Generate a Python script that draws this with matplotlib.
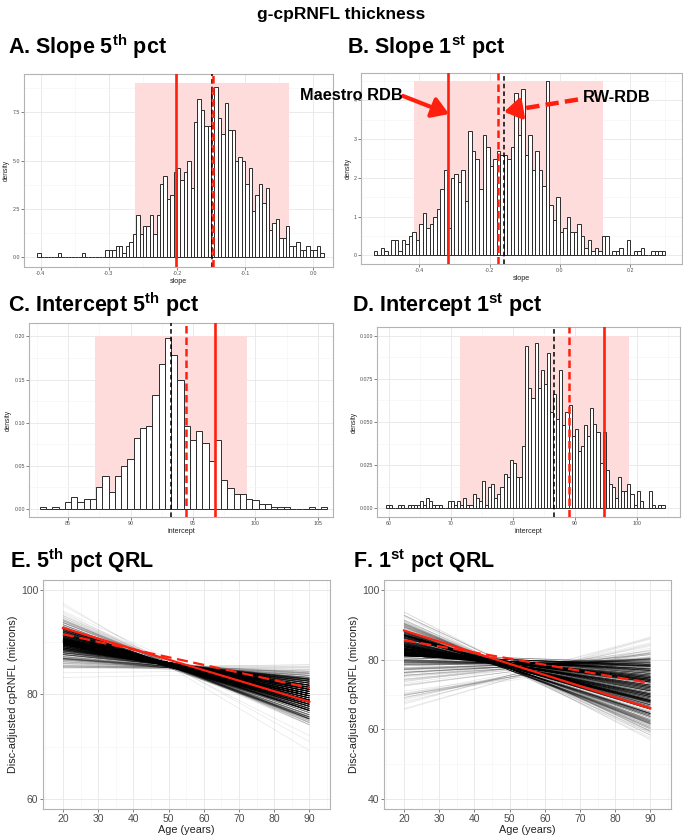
import numpy as np
import matplotlib
matplotlib.use('Agg')
import matplotlib.pyplot as plt
from matplotlib.patches import Rectangle, FancyArrowPatch
from matplotlib.lines import Line2D
from matplotlib.collections import LineCollection
from matplotlib.ticker import MultipleLocator

plt.rcParams['font.family'] = ['Liberation Sans', 'DejaVu Sans']
plt.rcParams['mathtext.fontset'] = 'custom'
plt.rcParams['mathtext.rm'] = 'Liberation Sans:bold'
plt.rcParams['mathtext.bf'] = 'Liberation Sans:bold'

# ---- bootstrap histograms (density per bin) ----
slope5_start, slope5_bw = -0.405, 0.005
slope5_density = [0.2, 0, 0, 0, 0, 0, 0.2, 0, 0, 0, 0, 0, 0, 0.2, 0, 0, 0, 0, 0, 0,
                  0.4, 0.4, 0.4, 0.6, 0.6, 0.2, 0.6, 0.8, 1.2, 2.2, 1.2, 1.6, 1.6, 2.2, 1.2, 2.2, 3.8, 4.2, 3.0, 3.2,
                  4.4, 4.6, 4.0, 4.4, 5.0, 3.6,
                  7.0, 8.2, 7.6, 6.8, 6.8, 8.6, 8.8, 7.2, 6.4, 8.0, 6.6, 6.6, 5.0, 5.2, 5.0, 3.8, 4.6, 2.4, 3.2, 3.8,
                  2.8, 3.6, 1.4, 1.8, 2.0, 1.0, 1.0, 1.6,
                  0.6, 0.6, 0.8, 0.4, 0.4, 0.6, 0.4, 0.4, 0.6, 0.2]

slope1_start, slope1_bw = -0.53, 0.01
slope1_density = [0.1, 0, 0.2, 0.1, 0, 0.4, 0.4, 0.1, 0.4, 0.3, 0.5, 0.6, 0.4, 0.8, 1.1, 0.7, 0.8, 1.0, 1.2, 1.7,
                  2.2, 0.7, 2.0, 2.1, 1.9, 2.2, 1.4, 3.2, 2.7, 2.5, 1.7, 3.1, 2.8, 2.3, 2.5, 2.7, 2.6, 2.6, 2.5, 2.8,
                  4.2, 3.1, 4.3, 2.6, 3.1, 2.2, 2.7, 2.2, 1.8, 4.5, 1.3, 0.9, 1.5, 0.6, 0.7, 1.0, 0.6, 0.6, 0.8, 0.5,
                  0.2, 0.4, 0.1, 0.2, 0.1, 0.5, 0.5, 0, 0.1, 0.1, 0.2, 0, 0.4, 0, 0.1, 0.1, 0.2, 0, 0, 0.1, 0.1, 0.1, 0.1]

icpt5_start, icpt5_bw = 82.75, 0.5
icpt5_density = [0.002, 0, 0.002, 0, 0.008, 0.014, 0.008, 0.012, 0.012, 0.026,
                 0.038, 0.020, 0.038, 0.050, 0.058, 0.082, 0.094, 0.096, 0.132, 0.168,
                 0.198, 0.178, 0.150, 0.096, 0.080, 0.090, 0.076, 0.056, 0.080, 0.034,
                 0.024, 0.018, 0.018, 0.012, 0.010, 0.006, 0.006, 0.002, 0.002, 0.002,
                 0, 0, 0, 0.002, 0, 0.002]

icpt1_start, icpt1_bw = 59.5, 0.5
icpt1_density = [0.002, 0.002, 0, 0, 0.002, 0.002, 0, 0.002, 0.002, 0.002,
                 0.002, 0.004, 0.002, 0.006, 0.004, 0.002, 0.002, 0.002, 0, 0,
                 0.004, 0.004, 0.002, 0.004, 0.002, 0.006, 0.002, 0.002, 0.008, 0.006,
                 0.004, 0.016, 0.002, 0.012, 0.014, 0.006, 0.008, 0.012, 0.020, 0.018,
                 0.028, 0.026, 0.018, 0.018, 0.036, 0.094, 0.070, 0.064, 0.096, 0.070,
                 0.080, 0.072, 0.090, 0.056, 0.066, 0.052, 0.080, 0.048, 0.056, 0.060,
                 0.042, 0.046, 0.033, 0.036, 0.048, 0.042, 0.058, 0.049, 0.044, 0.026,
                 0.044, 0.022, 0.014, 0.012, 0.006, 0.018, 0.010, 0.010, 0.014, 0.008,
                 0.002, 0.010, 0.004, 0, 0, 0.010, 0.002, 0, 0.002, 0.002]

# ---- reference estimates ----
maestro_slope5, rw_slope5, boot_slope5 = -0.2015, -0.1468, -0.1483
maestro_icpt5, rw_icpt5, boot_icpt5 = 96.74, 94.47, 93.27
maestro_slope1, rw_slope1, boot_slope1 = -0.319, -0.176, -0.160
maestro_icpt1, rw_icpt1, boot_icpt1 = 94.76, 89.1, 86.58

# shaded interval [low, high, top]
band_slope5 = [-0.2617, -0.0353, 9.0]
band_slope1 = [-0.416, 0.124, 4.5]
band_icpt5 = [87.13, 99.32, 0.2]
band_icpt1 = [71.43, 98.8, 0.1]

ages = [20, 90]

W, H = 683, 839
fig = plt.figure(figsize=(W / 100, H / 100), dpi=100)


def px_axes(l, t, r, b):
    return fig.add_axes([l / W, 1 - b / H, (r - l) / W, (b - t) / H])


def fx(x, y):
    return (x / W, 1 - y / H)


RED = '#ff1f0f'
GRID_MAJ = '#e6e6e6'
GRID_MIN = '#f3f3f3'


def style_bw(ax, tick_size, pad):
    ax.set_facecolor('white')
    for s in ax.spines.values():
        s.set_color('#b3b3b3')
        s.set_linewidth(0.8)
    ax.grid(which='major', color=GRID_MAJ, lw=0.6, zorder=0)
    ax.grid(which='minor', color=GRID_MIN, lw=0.4, zorder=0)
    ax.set_axisbelow(True)
    ax.tick_params(which='major', labelsize=tick_size, colors='#4d4d4d', length=2, width=0.5, pad=pad)
    ax.tick_params(which='minor', length=0)


def hist_panel(ax, start, bw, dens, band, solid, dashed, black, xlim, ylim, xmaj, ymaj, xlabel):
    dens = np.array(dens)
    edges = start + bw * np.arange(len(dens))
    ax.add_patch(Rectangle((band[0], 0), band[1] - band[0], band[2], facecolor='#ffdcdc',
                           edgecolor='none', zorder=1))
    ax.bar(edges, dens, width=bw, align='edge', facecolor='white', edgecolor='#2b2b2b',
           linewidth=0.7, zorder=2)
    ax.axvline(solid, color=RED, lw=1.9, zorder=3)
    ax.axvline(black, color='black', lw=1.1, ls=(0, (3, 2)), zorder=3)
    ax.axvline(dashed, color=RED, lw=1.8, ls=(0, (3, 1.6)), zorder=4)
    ax.set_xlim(*xlim)
    ax.set_ylim(*ylim)
    ax.xaxis.set_major_locator(MultipleLocator(xmaj))
    ax.xaxis.set_minor_locator(MultipleLocator(xmaj / 2))
    ax.yaxis.set_major_locator(MultipleLocator(ymaj))
    ax.yaxis.set_minor_locator(MultipleLocator(ymaj / 2))
    style_bw(ax, 3.8, 1)
    ax.set_xlabel(xlabel, fontsize=5.2, color='#222222', labelpad=1)
    ax.set_ylabel('density', fontsize=4.8, color='#222222', labelpad=1.5)


axA = px_axes(24, 74, 333, 267)
hist_panel(axA, slope5_start, slope5_bw, slope5_density, band_slope5,
           maestro_slope5, rw_slope5, boot_slope5, (-0.4245, 0.0289), (-0.5, 9.48), 0.1, 2.5, 'slope')
axA.xaxis.set_major_formatter(lambda v, p: f'{v:.1f}')

axB = px_axes(361, 73, 682, 264)
hist_panel(axB, slope1_start, slope1_bw, slope1_density, band_slope1,
           maestro_slope1, rw_slope1, boot_slope1, (-0.566, 0.348), (-0.225, 4.71), 0.2, 1, 'slope')
axB.xaxis.set_major_formatter(lambda v, p: f'{v:.1f}')

axC = px_axes(29, 323, 333, 517)
hist_panel(axC, icpt5_start, icpt5_bw, icpt5_density, band_icpt5,
           maestro_icpt5, rw_icpt5, boot_icpt5, (81.88, 106.2), (-0.0092, 0.2155), 5, 0.05, 'intercept')
axC.yaxis.set_major_formatter(lambda v, p: f'{v:.2f}')

axD = px_axes(377, 327, 680, 517)
hist_panel(axD, icpt1_start, icpt1_bw, icpt1_density, band_icpt1,
           maestro_icpt1, rw_icpt1, boot_icpt1, (58.06, 107.0), (-0.0052, 0.1052), 10, 0.025, 'intercept')
axD.yaxis.set_major_formatter(lambda v, p: f'{v:.3f}')


# ---- quantile regression lines built from the bootstrap histograms ----
def histogram_draws(start, bw, dens, n):
    dens = np.array(dens, dtype=float)
    centers = start + bw * (np.arange(len(dens)) + 0.5)
    cdf = np.cumsum(dens) / dens.sum()
    q = (np.arange(n) + 0.5) / n
    return centers[np.searchsorted(cdf, q)]


def qrl_panel(ax, slopes, icpts, maestro, rw, ylim, ymaj):
    n = 1000
    s = np.sort(histogram_draws(*slopes, n))
    b = np.sort(histogram_draws(*icpts, n))[::-1]
    a0, a1 = ages
    segs = [[(a0, bi + si * a0), (a1, bi + si * a1)] for si, bi in zip(s, b)]
    ax.add_collection(LineCollection(segs, colors='black', linewidths=0.55, alpha=0.085, zorder=2))
    for (sl, ic), ls in zip([maestro, rw], ['-', (0, (5, 2.5))]):
        ax.plot(ages, [ic + sl * a for a in ages], color=RED, lw=1.6, ls=ls, zorder=3)
    ax.set_xlim(14.32, 95.87)
    ax.set_ylim(*ylim)
    ax.xaxis.set_major_locator(MultipleLocator(10))
    ax.xaxis.set_minor_locator(MultipleLocator(5))
    ax.yaxis.set_major_locator(MultipleLocator(ymaj))
    ax.yaxis.set_minor_locator(MultipleLocator(ymaj / 2))
    style_bw(ax, 7.5, 1.5)
    ax.set_xlabel('Age (years)', fontsize=7.8, color='#222222', labelpad=1)
    ax.set_ylabel('Disc-adjusted cpRNFL (microns)', fontsize=7.8, color='#222222', labelpad=2)


axE = px_axes(43, 580, 330, 809)
qrl_panel(axE, (slope5_start, slope5_bw, slope5_density), (icpt5_start, icpt5_bw, icpt5_density),
          (maestro_slope5, maestro_icpt5), (rw_slope5, rw_icpt5), (58.09, 101.9), 20)

axF = px_axes(384, 580, 671, 809)
qrl_panel(axF, (slope1_start, slope1_bw, slope1_density), (icpt1_start, icpt1_bw, icpt1_density),
          (maestro_slope1, maestro_icpt1), (rw_slope1, rw_icpt1), (37.13, 102.87), 20)

# ---- titles ----
fig.text(*fx(341, 14), 'g-cpRNFL thickness', ha='center', va='center', fontsize=12.5, weight='bold')
titles = [(8, 47, r'A. Slope 5$^{\mathrm{th}}$ pct'), (347, 47, r'B. Slope 1$^{\mathrm{st}}$ pct'),
          (8, 305, r'C. Intercept 5$^{\mathrm{th}}$ pct'), (352, 305, r'D. Intercept 1$^{\mathrm{st}}$ pct'),
          (10, 561, r'E. 5$^{\mathrm{th}}$ pct QRL'), (353, 561, r'F. 1$^{\mathrm{st}}$ pct QRL')]
for x, y, t in titles:
    fig.text(*fx(x, y), t, ha='left', va='center', fontsize=15.5, weight='bold')

# ---- annotations ----
fig.text(*fx(300, 95), 'Maestro RDB', ha='left', va='center', fontsize=11.8, weight='bold')
fig.text(*fx(583, 98), 'RW-RDB', ha='left', va='center', fontsize=11.8, weight='bold')

fig.add_artist(FancyArrowPatch(fx(403, 96), fx(449, 114), transform=fig.transFigure,
                               arrowstyle='-|>,head_length=0.55,head_width=0.35', mutation_scale=18,
                               color=RED, lw=3, shrinkA=0, shrinkB=0))
fig.add_artist(Line2D([578 / W, 520 / W], [1 - 99.5 / H, 1 - 109 / H], transform=fig.transFigure,
                      color=RED, lw=3.2, ls=(0, (3, 1.4)), solid_capstyle='butt'))
fig.add_artist(FancyArrowPatch(fx(520, 109), fx(504, 111.8), transform=fig.transFigure,
                               arrowstyle='-|>,head_length=0.55,head_width=0.35', mutation_scale=18,
                               color=RED, lw=3, shrinkA=0, shrinkB=0))

fig.savefig('out.png', dpi=100)
